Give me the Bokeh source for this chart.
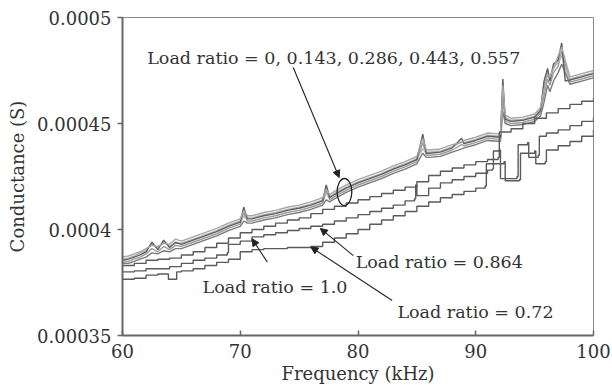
from bokeh.plotting import figure
from bokeh.models import Range1d, FixedTicker, CustomJSTickFormatter, Label, Arrow, NormalHead
from bokeh.embed import file_html
from bokeh.resources import INLINE

# ---------------- data (conductance in micro-siemens, frequency in kHz) ----------------
cluster_freq = [60, 60.5, 61, 61.5, 62, 62.5, 63, 63.5, 64, 64.5, 65, 66, 67, 68, 69, 70, 70.3, 70.6, 71, 72,
                73, 74, 75, 76, 77, 77.3, 77.6, 78, 79, 80, 81, 82, 83, 84, 85, 85.5, 85.8, 86, 87, 88,
                88.8, 89, 90, 91, 92.1, 92.3, 92.5, 93, 94, 95, 95.5, 95.8, 96.1, 96.3, 96.6, 97, 97.3, 97.6, 98, 99,
                100]
ratio_0 = [385.5, 386, 387, 388, 389.5, 394, 390.5, 395, 391.5, 394, 393, 395, 397, 399, 401.5, 403.5, 410.5, 405, 405, 406.5,
           407.5, 409, 410, 411.5, 413.5, 421, 415, 416.5, 419.5, 422, 424, 426, 428.5, 430.5, 433, 445, 436, 436, 436.5, 438.5,
           443, 440.5, 442, 444, 443.5, 471, 452, 451, 451.5, 453, 456, 470, 476, 470, 478, 480, 488, 470, 470.5, 472,
           473.5]
ratio_0143 = [387, 387.5, 388.5, 389.5, 391, 392.5, 392, 393.5, 393, 395.5, 394.5, 396.5, 398.5, 400.5, 403, 405, 409, 406.5, 406.5, 408,
              409, 410.5, 411.5, 413, 415, 419, 416.5, 418, 421, 423.5, 425.5, 427.5, 430, 432, 434.5, 443, 437.5, 437.5, 438, 440,
              441, 442, 443.5, 445.5, 445, 468, 454, 452.5, 453, 454.5, 457.5, 466, 473, 472, 476, 482, 486, 480, 472, 473.5,
              475]
ratio_0286 = [384.5, 385, 386, 387, 388.5, 391, 389.5, 392, 390.5, 392.5, 392, 394, 396, 398, 400.5, 402.5, 408, 404, 404, 405.5,
              406.5, 408, 409, 410.5, 412.5, 418, 414, 415.5, 418.5, 421, 423, 425, 427.5, 429.5, 432, 441, 435, 435, 435.5, 437.5,
              440, 439.5, 441, 443, 442.5, 465, 451, 450, 450.5, 452, 455, 463, 471, 468, 474, 477, 484, 478, 469.5, 471,
              472.5]
ratio_0443 = [386, 386.5, 387.5, 389, 390, 393, 391.5, 394, 392, 393.5, 393.5, 395.5, 397.5, 399.5, 402, 404, 406, 405.5, 405.5, 407,
              408, 409.5, 410.5, 412, 414, 417, 415.5, 417, 420, 422.5, 424.5, 426.5, 429, 431, 433.5, 438, 436.5, 436.5, 437, 439,
              441.5, 441, 442.5, 444.5, 444, 460, 453, 451.5, 452, 453.5, 456.5, 468, 474, 471, 476, 479, 482, 476, 471, 472.5,
              474]
ratio_0557 = [384, 384, 385, 386, 387, 389, 388.5, 390, 389.5, 391, 391, 393, 395, 397, 399.5, 401.5, 404, 403, 403, 404.5,
              405.5, 407, 408, 409.5, 411.5, 414, 413, 414.5, 417.5, 420, 422, 424, 426.5, 428.5, 431, 436, 434, 434, 434.5, 436.5,
              438, 438.5, 440, 442, 441.5, 456, 450, 449, 449.5, 451, 453.5, 460, 468, 465, 470, 474, 478, 474, 468.5, 470,
              471.5]

freq_10 = [60, 61, 62, 63, 64, 65, 66, 67, 68, 69, 70, 71, 72, 73, 74, 75, 76, 77, 78, 79, 80, 81, 82, 83, 84, 85,
           86, 87, 88, 89, 90, 91, 91.9, 92.0, 93, 94, 95, 96, 97, 98, 99, 100]
ratio_10 = [383, 384, 385.5, 386, 386.5, 388, 389.5, 391.5, 393.5, 396, 398.5, 400, 401.5, 403, 404.5, 405.5, 407.5, 409.5, 411, 412.5,
            414, 415.5, 417, 418.5, 420, 422.5, 425.5, 427.5, 429, 430.5, 432, 433, 434, 446, 447.5, 450, 452.5, 455, 457, 459,
            460.5, 462]

freq_0864 = [60, 61, 62, 63, 64, 65, 66, 67, 68, 68.9, 69.0, 70, 71, 72, 73, 74, 75, 76, 77, 78, 79, 80, 81, 82, 83, 84,
             84.8, 84.9, 85.0, 86, 87, 88, 89, 90, 91, 91.4, 91.5, 92.0, 92.1, 93.5, 93.6, 94.4, 94.5, 95.3, 95.4, 96, 97, 98, 99, 100]
ratio_0864 = [380, 380.5, 381.5, 381.5, 382.5, 384, 385.5, 386.5, 388, 389, 393, 394.5, 396.5, 397.5, 398.5, 399.5, 400.5, 401.5, 402.5, 404,
              405.5, 407, 408.5, 410, 411.5, 413.5, 414.5, 421, 416, 419.5, 422, 423.5, 425, 426.5, 428, 428.5, 437, 437.5, 424, 425,
              440, 441, 434, 435, 444, 445.5, 447, 449, 451, 453]

freq_072 = [60, 61, 62, 63, 63.8, 63.9, 64.5, 64.6, 65, 66, 67, 68, 69, 70, 71, 72, 73, 74, 75, 76, 77, 78, 79, 80, 81, 82,
            83, 84, 85, 86, 87, 88, 89, 90, 90.8, 90.9, 92.4, 92.5, 93.7, 93.8, 95.0, 95.1, 95.9, 96.0, 97, 98, 99, 100]
ratio_072 = [376.5, 377, 378.5, 379, 379, 376.5, 376.5, 380, 380.5, 381.5, 383, 384.5, 386, 389.5, 390.5, 391, 391, 391.5, 391.5, 392,
             394, 396, 398, 400, 402.5, 404.5, 406.5, 408.5, 411, 413, 415, 416.5, 418, 419.5, 420.5, 431, 432, 423, 423.5, 436,
             437, 431, 432, 437.5, 439.5, 441.5, 444, 447]

x_ticks = [60, 70, 80, 90, 100]
y_ticks = [0.00035, 0.0004, 0.00045, 0.0005]

US = 1e-6  # micro-siemens -> siemens

FONT = "DejaVu Serif"
TXT = "#333333"
FS = "18px"
FS_NOTE = "17.5px"

p = figure(width=612, height=390, output_backend="svg", toolbar_location=None,
           x_range=Range1d(60, 100), y_range=Range1d(0.00035, 0.0005),
           min_border_left=122, min_border_right=19, min_border_top=17, min_border_bottom=55)
p.background_fill_color = "white"
p.border_fill_color = "white"
p.outline_line_color = "#8a8a8a"
p.outline_line_width = 1
p.xgrid.visible = False
p.ygrid.visible = False

cluster = [
    (ratio_0557, "#7a7a7a"),
    (ratio_0286, "#9c9c9c"),
    (ratio_0443, "#b4b4b4"),
    (ratio_0, "#5e5e5e"),
    (ratio_0143, "#a6a6a6"),
]
for vy, col in cluster:
    p.line(cluster_freq, [v * US for v in vy], line_color=col, line_width=1.4)

lower = [
    (freq_10, ratio_10),
    (freq_0864, ratio_0864),
    (freq_072, ratio_072),
]
for fx, vy in lower:
    p.step(fx, [v * US for v in vy], mode="after", line_color="#5a5a5a", line_width=1.4)

# axes
p.xaxis.ticker = FixedTicker(ticks=x_ticks)
p.yaxis.ticker = FixedTicker(ticks=y_ticks)
p.yaxis.formatter = CustomJSTickFormatter(code="return tick.toString();")
for ax in (p.xaxis, p.yaxis):
    ax.axis_line_color = "#666666"
    ax.axis_line_width = 2
    ax.major_tick_line_color = "#666666"
    ax.major_tick_line_width = 1.5
    ax.minor_tick_line_color = None
    ax.major_label_text_font = FONT
    ax.major_label_text_font_size = FS
    ax.major_label_text_color = TXT
    ax.axis_label_text_font = FONT
    ax.axis_label_text_font_size = FS
    ax.axis_label_text_font_style = "normal"
    ax.axis_label_text_color = TXT
p.xaxis.major_tick_in = 5
p.xaxis.major_tick_out = 0
p.xaxis.major_label_standoff = 8
p.xaxis.axis_label = "Frequency (kHz)"
p.xaxis.axis_label_standoff = 2
p.yaxis.major_tick_in = 0
p.yaxis.major_tick_out = 5
p.yaxis.major_label_standoff = 6
p.yaxis.axis_label = "Conductance (S)"
p.yaxis.axis_label_standoff = 6

# ---------------- annotations ----------------
def add_label(x, y, text):
    p.add_layout(Label(x=x, y=y * US, text=text, text_font=FONT, text_font_size=FS_NOTE,
                       text_color=TXT, text_baseline="alphabetic", text_align="left"))

def add_arrow(x0, y0, x1, y1):
    p.add_layout(Arrow(end=NormalHead(size=7, fill_color="#222222", line_color="#222222"),
                       x_start=x0, y_start=y0 * US, x_end=x1, y_end=y1 * US,
                       line_color="#222222", line_width=1.1))

add_label(62.1, 481.0, "Load ratio = 0, 0.143, 0.286, 0.443, 0.557")
add_arrow(74.5, 476.4, 78.4, 424.5)
p.ellipse(x=[78.85], y=[417.7 * US], width=1.25, height=12.7 * US,
          fill_color=None, line_color="#222222", line_width=1.3)

add_label(66.8, 373.0, "Load ratio = 1.0")
add_arrow(72.3, 384.6, 71.0, 395.6)

add_label(79.8, 384.9, "Load ratio = 0.864")
add_arrow(79.6, 387.7, 76.8, 400.5)

add_label(83.35, 361.3, "Load ratio = 0.72")
add_arrow(82.9, 366.5, 76.0, 391.7)

open("out.html", "w").write(file_html(p, INLINE))
